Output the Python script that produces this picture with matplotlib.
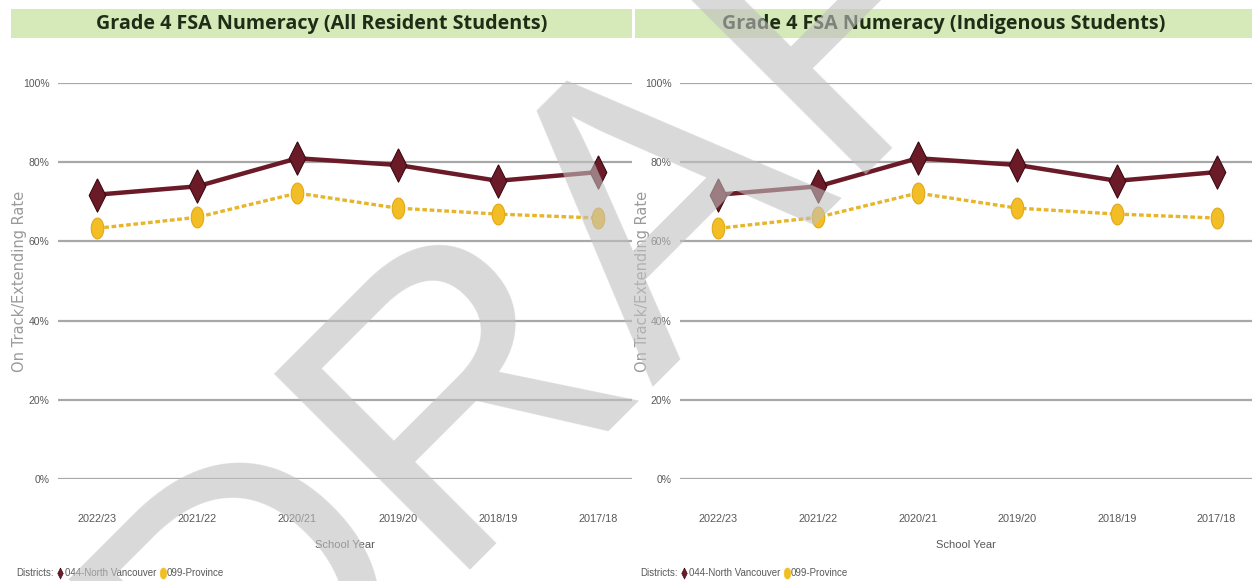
import matplotlib
matplotlib.use("Agg")
import matplotlib.pyplot as plt
from matplotlib.lines import Line2D
from matplotlib.patches import Rectangle
import numpy as np

# ---------------- data ----------------
school_years = ["2022/23", "2021/22", "2020/21", "2019/20", "2018/19", "2017/18"]
all_north_vancouver = [71.8, 73.9, 81.0, 79.3, 75.3, 77.5]
all_province = [63.3, 66.1, 72.2, 68.4, 66.9, 65.9]
ind_north_vancouver = [71.8, 73.9, 81.0, 79.3, 75.3, 77.5]
ind_province = [63.3, 66.1, 72.2, 68.4, 66.9, 65.9]
y_ticks = [0, 20, 40, 60, 80, 100]
titles = ["Grade 4 FSA Numeracy (All Resident Students)",
          "Grade 4 FSA Numeracy (Indigenous Students)"]
series_names = ["044-North Vancouver", "099-Province"]

W, H = 1252, 581
fig = plt.figure(figsize=(W / 100, H / 100), dpi=100)
fig.patch.set_facecolor("white")

NARROW = ["Liberation Sans", "DejaVu Sans"]
MAROON = "#6b1a28"
MAROON_EDGE = "#3a0a12"
GOLD = "#f3be25"
GOLD_LINE = "#e6b52a"
GRID = "#a8a8a8"
TXT = "#595959"

# custom marker shapes
diamond = [(0, 1), (0.5, 0), (0, -1), (-0.5, 0), (0, 1)]
th = np.linspace(0, 2 * np.pi, 40)
ellipse = list(zip(0.6 * np.cos(th), np.sin(th)))


def fx(px):
    return px / W


def fy(py):
    return 1 - py / H


panels = [
    dict(grid_l=58, grid_r=632, x0=97.0, dx=100.2, band=(11, 632),
         ylab_x=20, leg_x=16, nv=all_north_vancouver, pv=all_province, title=titles[0]),
    dict(grid_l=680, grid_r=1252, x0=718.5, dx=99.6, band=(635, 1252),
         ylab_x=643, leg_x=640, nv=ind_north_vancouver, pv=ind_province, title=titles[1]),
]

top_px, bot_px = 83, 479
for p in panels:
    # title band
    b0, b1 = p["band"]
    fig.patches.append(Rectangle((fx(b0), fy(38)), fx(b1 - b0), (38 - 9) / H,
                                 transform=fig.transFigure, facecolor="#d5e9b9",
                                 edgecolor="none", zorder=0))
    fig.text(fx((b0 + b1) / 2), fy(24), p["title"], ha="center", va="center",
             fontsize=14.2, fontweight="bold", color="#1f2d17",
             family=["Open Sans", "DejaVu Sans"])

    ax = fig.add_axes([fx(p["grid_l"]), fy(bot_px), fx(p["grid_r"] - p["grid_l"]),
                       (bot_px - top_px) / H])
    xs = np.arange(len(school_years))
    ax.set_xlim((p["grid_l"] - p["x0"]) / p["dx"], (p["grid_r"] - p["x0"]) / p["dx"])
    ax.set_ylim(0, 100)
    ax.set_yticks(y_ticks)
    ax.set_yticklabels([f"{v}%" for v in y_ticks], family=NARROW, fontsize=7.5, color=TXT)
    ax.set_xticks(xs)
    ax.set_xticklabels(school_years, family=NARROW, fontsize=7.8, color=TXT)
    ax.tick_params(axis="both", length=0)
    ax.tick_params(axis="y", pad=6)
    ax.tick_params(axis="x", pad=25)
    for s in ax.spines.values():
        s.set_visible(False)
    ax.yaxis.grid(True, color=GRID, linewidth=1.6)
    ax.set_axisbelow(True)
    ax.patch.set_alpha(0)

    ax.plot(xs, p["pv"], color=GOLD_LINE, linewidth=2.4, linestyle=(0, (1.4, 0.8)),
            marker=ellipse, markersize=15, markerfacecolor=GOLD,
            markeredgecolor="#e0a91a", markeredgewidth=0.8, zorder=3)
    ax.plot(xs, p["nv"], color=MAROON, linewidth=3.2,
            marker=diamond, markersize=24, markerfacecolor=MAROON,
            markeredgecolor=MAROON_EDGE, markeredgewidth=0.8, zorder=4)

    ax.set_xlabel("School Year", family=NARROW, fontsize=8, color=TXT, labelpad=12)

    fig.text(fx(p["ylab_x"]), fy((top_px + bot_px) / 2), "On Track/Extending Rate",
             rotation=90, ha="center", va="center", fontsize=10.5, color="#9a9a9a",
             family="DejaVu Sans")

    # legend line
    t = fig.text(fx(p["leg_x"]), fy(573), "Districts:", ha="left", va="center",
                 family=NARROW, fontsize=7, color=TXT)
    fig.canvas.draw()
    bb = t.get_window_extent()
    handles = [
        Line2D([], [], linestyle="none", marker=diamond, markersize=8,
               markerfacecolor=MAROON, markeredgecolor=MAROON_EDGE, markeredgewidth=0.4),
        Line2D([], [], linestyle="none", marker=ellipse, markersize=8,
               markerfacecolor=GOLD, markeredgecolor=GOLD, markeredgewidth=0.4),
    ]
    leg = fig.legend(handles, series_names, loc="center left",
                     bbox_to_anchor=(bb.x1 / W + 0.003, fy(573)), ncol=2, frameon=False,
                     borderpad=0, borderaxespad=0, handlelength=0.6, handletextpad=0.15,
                     columnspacing=0.4, prop=dict(family=NARROW, size=7))
    for txt in leg.get_texts():
        txt.set_color(TXT)

# DRAFT watermark
fig.text(fx(706), fy(300), "DRAFT", rotation=45, rotation_mode="anchor",
         ha="center", va="baseline", fontsize=290, color="#c0c0c0", alpha=0.6,
         family=["Liberation Sans", "DejaVu Sans"], zorder=100)

fig.savefig("out.png", dpi=100)
